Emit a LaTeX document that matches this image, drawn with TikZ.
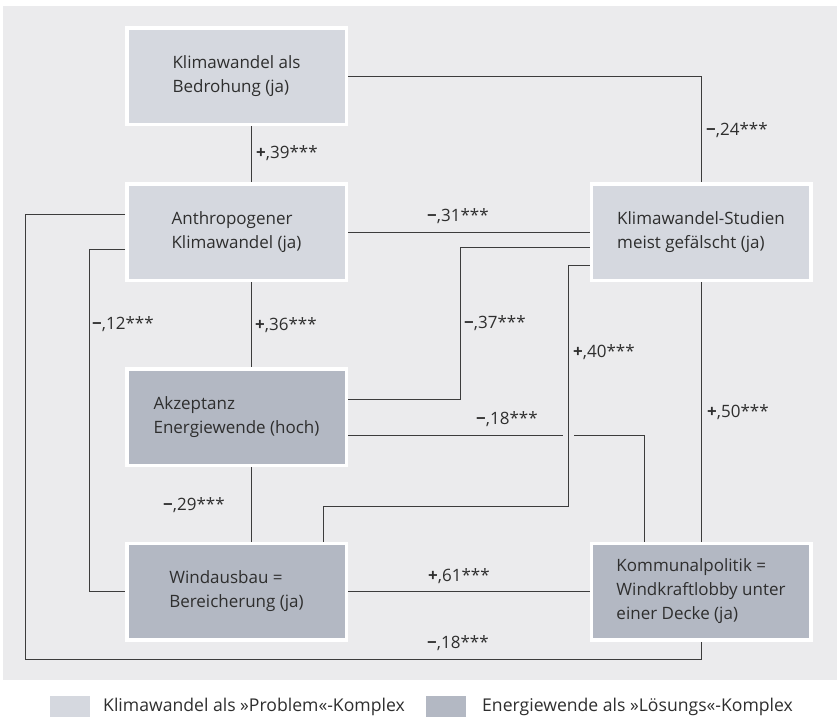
\documentclass[tikz,border=0pt]{standalone}
\usepackage{fontspec}
\setmainfont{Open Sans}
\definecolor{bgc}{HTML}{EBEBED}
\definecolor{lightbox}{HTML}{D5D8DF}
\definecolor{darkbox}{HTML}{B3B8C3}
\definecolor{linec}{HTML}{3C3C3C}
\definecolor{txt}{HTML}{2E2E2E}
\newcommand{\boxfont}{\fontsize{17}{24}\selectfont}
\newcommand{\labfont}{\fontsize{17}{20}\selectfont}
\newcommand{\legfont}{\fontsize{17.6}{20}\selectfont}
\begin{document}
\begin{tikzpicture}[x=1pt,y=-1pt,
  box/.style={draw=white, line width=3.5pt, minimum width=219.5pt, minimum height=96.5pt,
    align=left, inner sep=0pt, font=\boxfont, text=txt},
  lbox/.style={box, fill=lightbox},
  dbox/.style={box, fill=darkbox},
  conn/.style={draw=linec, line width=1pt},
  lab/.style={anchor=west, font=\labfont, text=txt, inner sep=0pt},
  leg/.style={anchor=west, font=\legfont, text=txt, inner sep=0pt}]
\useasboundingbox (0,0) rectangle (837,718);
\fill[bgc] (3,6) rectangle (837,680);

% nodes
\node[lbox] (b1) at (236.5,76) {Klimawandel als\\Bedrohung (ja)};
\node[lbox] (b2) at (236.5,232) {Anthropogener\\Klimawandel (ja)};
\node[dbox] (b3) at (236.5,417) {Akzeptanz\\Energiewende (hoch)};
\node[dbox] (b4) at (236.5,591.5) {Windausbau =\\Bereicherung (ja)};
\node[lbox] (b5) at (701,232) {Klimawandel-Studien\\meist gefälscht (ja)};
\node[dbox] (b6) at (701,591.5) {Kommunalpolitik =\\Windkraftlobby unter\\einer Decke (ja)};

% routing coordinates
\coordinate (vA) at (251,0);
\coordinate (vL1) at (25,0);
\coordinate (vL2) at (89,0);
\coordinate (v460) at (460,0);
\coordinate (v568) at (568,0);
\coordinate (v644) at (644,0);
\coordinate (v323) at (323,0);
\coordinate (h214) at (0,214);
\coordinate (h249) at (0,249);
\coordinate (h659) at (0,659);
\coordinate (h399) at (0,399);
\coordinate (h247) at (0,247);
\coordinate (h435) at (0,435);
\coordinate (h506) at (0,506);
\coordinate (h265) at (0,265);

% connectors
\draw[conn] (b1.east) -| (b5.north);
\draw[conn] (b1.south -| vA) -- (b2.north -| vA);
\draw[conn] (b2.east) -- (b5.west);
\draw[conn] (b2.west |- h214) -| (vL1 |- h659) -| (b6.south);
\draw[conn] (b2.west |- h249) -| (vL2 |- b4.west) -- (b4.west);
\draw[conn] (b2.south -| vA) -- (b3.north -| vA);
\draw[conn] (b3.south -| vA) -- (b4.north -| vA);
\draw[conn] (b3.east |- h399) -| (v460 |- h247) -- (b5.west |- h247);
\draw[conn] (b3.east |- h435) -| (b6.north -| v644);
\draw[conn, preaction={draw=bgc, line width=11pt}] (b4.north -| v323) |- (v568 |- h506) |- (b5.west |- h265);
\draw[conn] (b4.east) -- (b6.west);
\draw[conn] (b5.south) -- (b6.north);

% labels
\node[lab] (l39) at (256,153) {\textbf{+},39***};
\node[lab] (l36) at (255,325) {\textbf{+},36***};
\node[lab] (l12) at (92,324) {\textbf{−},12***};
\node[lab] (l24) at (706,130) {\textbf{−},24***};
\node[lab] (l31) at (427,216) {\textbf{−},31***};
\node[lab] (l37) at (464,323) {\textbf{−},37***};
\node[lab] (l40) at (573,352) {\textbf{+},40***};
\node[lab] (l18a) at (476,419) {\textbf{−},18***};
\node[lab] (l50) at (707,412) {\textbf{+},50***};
\node[lab] (l29) at (163,505) {\textbf{−},29***};
\node[lab] (l61) at (428,576) {\textbf{+},61***};
\node[lab] (l18b) at (427,643) {\textbf{−},18***};

% legend
\fill[lightbox] (50,696) rectangle (90,717);
\node[leg] (lg1) at (103,706.5) {Klimawandel als »Problem«-Komplex};
\fill[darkbox] (426,696) rectangle (466,717);
\node[leg] (lg2) at (482,706.5) {Energiewende als »Lösungs«-Komplex};
\end{tikzpicture}
\end{document}
